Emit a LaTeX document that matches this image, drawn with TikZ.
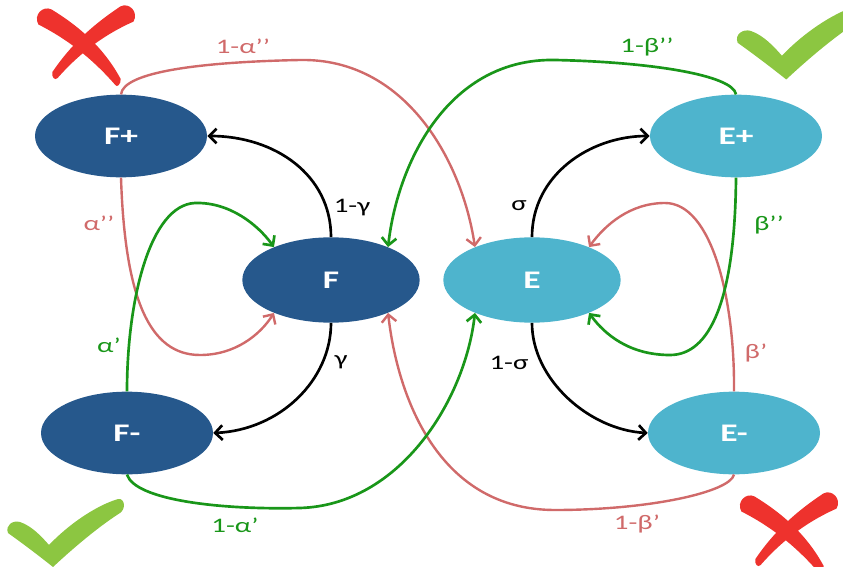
\documentclass[tikz,border=0pt]{standalone}
\usepackage{fontspec}
\setmainfont[FakeStretch=1.4]{Carlito}
\usetikzlibrary{shapes.geometric,arrows.meta}
\definecolor{fdark}{RGB}{38,88,140}
\definecolor{elight}{RGB}{78,180,205}
\definecolor{redl}{RGB}{208,106,106}
\definecolor{greenl}{RGB}{25,150,25}
\definecolor{xred}{RGB}{238,50,45}
\definecolor{tickg}{RGB}{140,198,65}
\tikzset{
  state/.style={ellipse, inner sep=0pt, text=white, font=\bfseries\fontsize{19}{22}\selectfont},
  fstate/.style={state, fill=fdark},
  estate/.style={state, fill=elight},
  outerst/.style={minimum width=129pt, minimum height=62pt},
  innerst/.style={minimum width=133pt, minimum height=64pt},
  tipped/.style={-{Straight Barb[length=5.5pt,width=11pt]}},
  bline/.style={draw=black, line width=2pt, tipped},
  rline/.style={draw=redl, line width=1.8pt, tipped},
  gline/.style={draw=greenl, line width=2pt, tipped},
  lab/.style={font=\fontsize{15.5}{18}\selectfont, inner sep=1pt},
  xmark/.pic={
    \fill[xred] (-46.6,-17.5) .. controls (-52,-27) and (-42,-37) .. (-33.4,-32.5)
      .. controls (-3,-14) and (20,8) .. (35.7,37)
      .. controls (36,42) and (32,46) .. (30.3,43)
      .. controls (12,22) and (-12,0) .. cycle;
    \fill[xred] (48.5,-20.4) .. controls (54,-30) and (44,-40) .. (35.5,-35.6)
      .. controls (6,-16) and (-15,4) .. (-32.6,30)
      .. controls (-34,35) and (-30,39) .. (-27.4,36)
      .. controls (-8,14) and (16,-6) .. cycle;
  },
  chk/.pic={
    \fill[tickg] (-42,-28) .. controls (-45,-36) and (-37,-41) .. (-30,-39)
      .. controls (-18,-35) and (-8,-24) .. (-1,-16)
      .. controls (18,-36) and (45,-55) .. (68,-62)
      .. controls (75,-63) and (76,-52) .. (70,-48)
      .. controls (45,-32) and (18,-8) .. (3,6)
      .. controls (-12,-6) and (-28,-18) .. cycle;
  }
}
\begin{document}
\begin{tikzpicture}[x=0.75pt,y=-0.75pt]
\useasboundingbox (0,0) rectangle (843,567);

% marks
\pic at (85,42) {xmark};
\pic at (788,529) {xmark};
\pic at (50,561) {chk};
\pic[scale=1.08] at (783,73) {chk};

% nodes
\node[fstate, outerst] (Fp) at (121,136) {F+};
\node[fstate, outerst] (Fm) at (127,433) {F-};
\node[fstate, innerst] (F) at (331,280) {F};
\node[estate, innerst] (E) at (532,280) {E};
\node[estate, outerst] (Ep) at (736,136) {E+};
\node[estate, outerst] (Em) at (734,433) {E-};

% black
\draw[bline] (F.north) .. controls (331,175) and (275,136) .. (Fp.east);
\draw[bline] (F.south) .. controls (331,380) and (280,430) .. (Fm.east);
\draw[bline] (E.north) .. controls (532,175) and (590,136) .. (Ep.west);
\draw[bline] (E.south) .. controls (532,380) and (590,430) .. (Em.west);

% red
\draw[rline] (Fp.north) .. controls (123,72) and (200,62) .. (300,60)
  .. controls (405,58) and (462,160) .. (E.150);
\draw[rline] (Fp.south) .. controls (125,300) and (150,355) .. (200,355)
  .. controls (235,355) and (260,335) .. (F.210);
\draw[rline] (Em.north) .. controls (735,300) and (712,203) .. (665,203)
  .. controls (630,203) and (605,225) .. (E.30);
\draw[rline] (Em.south) .. controls (730,492) and (650,510) .. (555,510)
  .. controls (440,510) and (398,400) .. (F.330);

% green
\draw[gline] (Ep.north) .. controls (733,75) and (650,62) .. (555,60)
  .. controls (450,58) and (398,160) .. (F.30);
\draw[gline] (Fm.north) .. controls (127,300) and (150,205) .. (195,203)
  .. controls (230,202) and (258,225) .. (F.150);
\draw[gline] (Fm.south) .. controls (135,500) and (220,510) .. (300,508)
  .. controls (400,505) and (465,400) .. (E.210);
\draw[gline] (Ep.south) .. controls (735,300) and (710,355) .. (670,355)
  .. controls (630,355) and (605,335) .. (E.330);

% labels
\node[lab, text=redl] (l1) at (243,46) {1-α’’};
\node[lab, text=redl] (l2) at (99,223) {α’’};
\node[lab, text=greenl] (l3) at (109,345) {α’};
\node[lab, text=greenl] (l4) at (235,525) {1-α’};
\node[lab, text=greenl] (l5) at (647,47) {1-β’’};
\node[lab, text=greenl] (l6) at (769,225) {β’’};
\node[lab, text=redl] (l7) at (756,353) {β’};
\node[lab, text=redl] (l8) at (637,524) {1-β’};
\node[lab] (l9) at (352,208) {1-γ};
\node[lab] (l10) at (341,362) {γ};
\node[lab] (l11) at (519,206) {σ};
\node[lab] (l12) at (509,363) {1-σ};
\end{tikzpicture}
\end{document}
